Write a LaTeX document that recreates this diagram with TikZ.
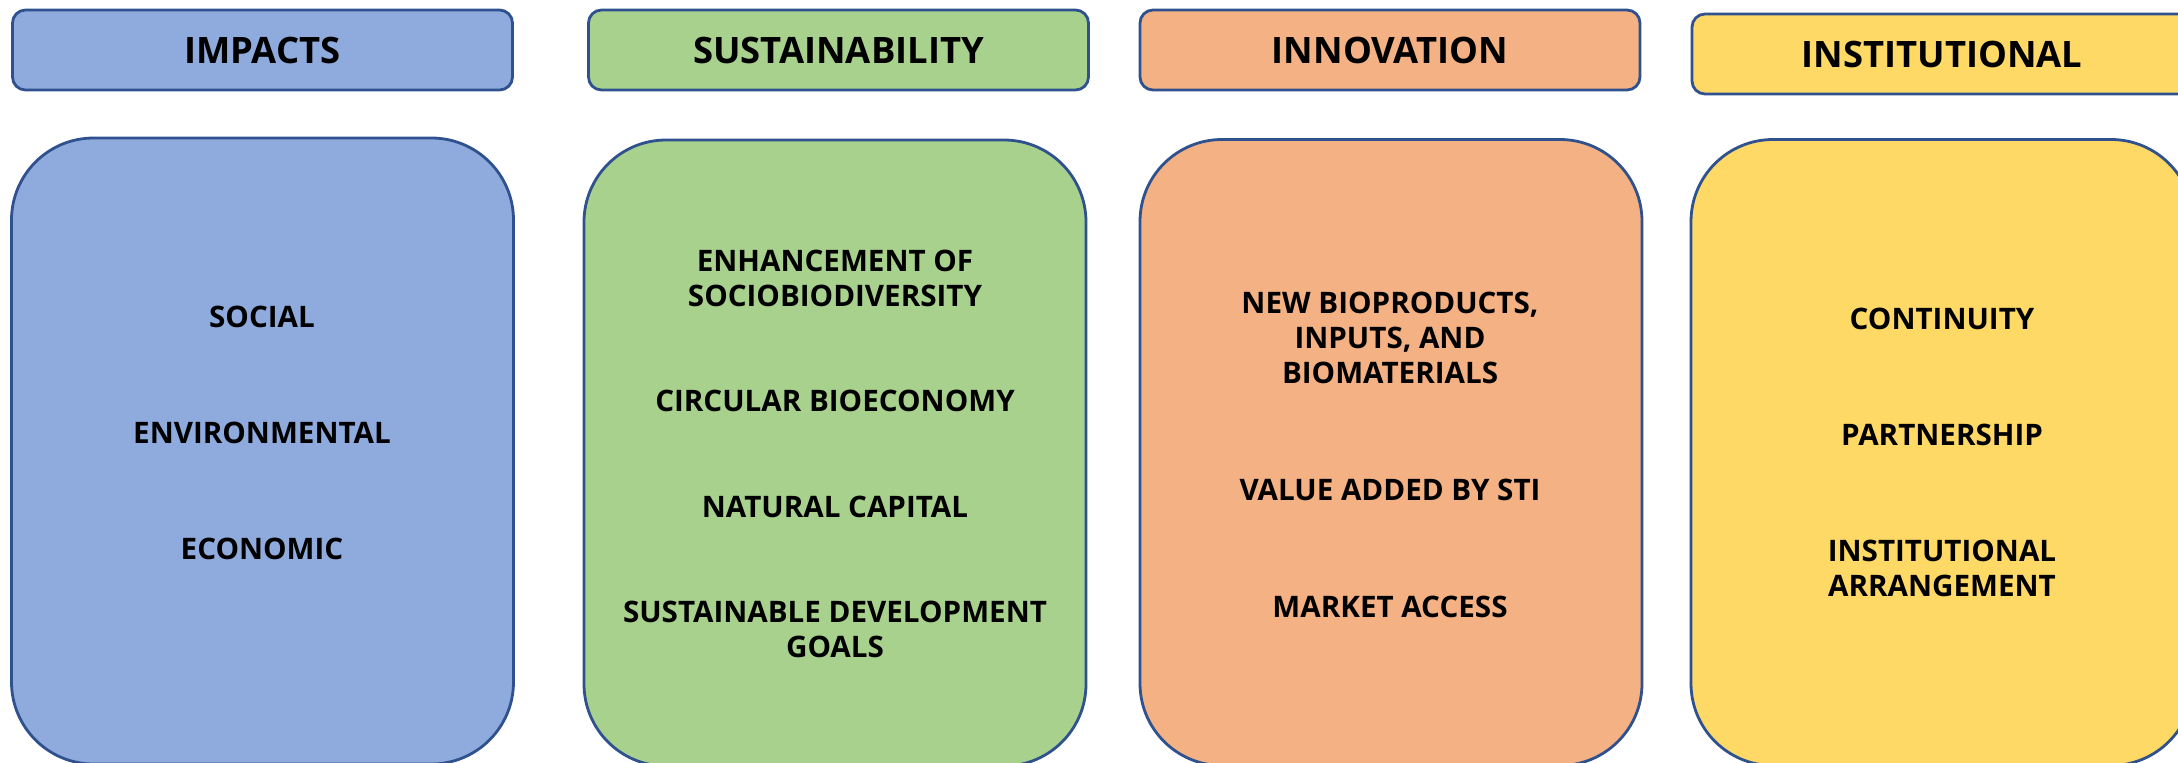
\documentclass[tikz,border=0pt]{standalone}
\usepackage{fontspec}
\setmainfont{Open Sans}
\usetikzlibrary{positioning}
\definecolor{edgeblue}{HTML}{2F528F}
\definecolor{impblue}{HTML}{8FAADC}
\definecolor{susgreen}{HTML}{A9D18E}
\definecolor{innorange}{HTML}{F4B183}
\definecolor{insyellow}{HTML}{FFD966}
\tikzset{
	headbox/.style = {draw=edgeblue, line width=1.4pt, rounded corners=6.5pt,
		minimum width=250pt, minimum height=40pt, inner sep=0pt,
		font=\bfseries\fontsize{18.2}{22}\selectfont},% titulo da coluna
	colbox/.style = {draw=edgeblue, line width=1.4pt, rounded corners=41pt,
		minimum width=251pt, minimum height=313pt, inner sep=0pt},% caixa grande
	item/.style = {align=center, inner sep=0pt,
		font=\bfseries\fontsize{14.8}{17.5}\selectfont}% texto interno
}
\begin{document}
\begin{tikzpicture}[x=0.5pt,y=-0.5pt]
\useasboundingbox (0,0) rectangle (2178,762);
% titulos
\node [headbox, fill=impblue] (h-imp) at (262.5,50) {IMPACTS};
\node [headbox, fill=susgreen] (h-sus) at (838.5,50) {SUSTAINABILITY};
\node [headbox, fill=innorange] (h-inn) at (1390,50) {INNOVATION};
\node [headbox, fill=insyellow] (h-ins) at (1942,54) {INSTITUTIONAL};
% caixas
\node [colbox, fill=impblue] (b-imp) at (262.5,451) {};
\node [colbox, fill=susgreen] (b-sus) at (835,453) {};
\node [colbox, fill=innorange] (b-inn) at (1391,452.5) {};
\node [colbox, fill=insyellow] (b-ins) at (1942,452.5) {};
% impactos
\node [item] (social) at (262,317) {SOCIAL};
\node [item] (environ) at (262,433) {ENVIRONMENTAL};
\node [item] (econ) at (262,549) {ECONOMIC};
% sustentabilidade
\node [item] (sociobio) at (835,278) {ENHANCEMENT OF\\SOCIOBIODIVERSITY};
\node [item] (circular) at (835,401) {CIRCULAR BIOECONOMY};
\node [item] (natcap) at (835,507) {NATURAL CAPITAL};
\node [item] (sdg) at (835,629) {SUSTAINABLE DEVELOPMENT\\GOALS};
% inovacao
\node [item] (bioprod) at (1390,338) {NEW BIOPRODUCTS,\\INPUTS, AND\\BIOMATERIALS};
\node [item] (valuesti) at (1390,490) {VALUE ADDED BY STI};
\node [item] (market) at (1390,607) {MARKET ACCESS};
% institucional
\node [item] (contin) at (1942,319) {CONTINUITY};
\node [item] (partner) at (1942,435) {PARTNERSHIP};
\node [item] (arrange) at (1942,568) {INSTITUTIONAL\\ARRANGEMENT};
\end{tikzpicture}
\end{document}
